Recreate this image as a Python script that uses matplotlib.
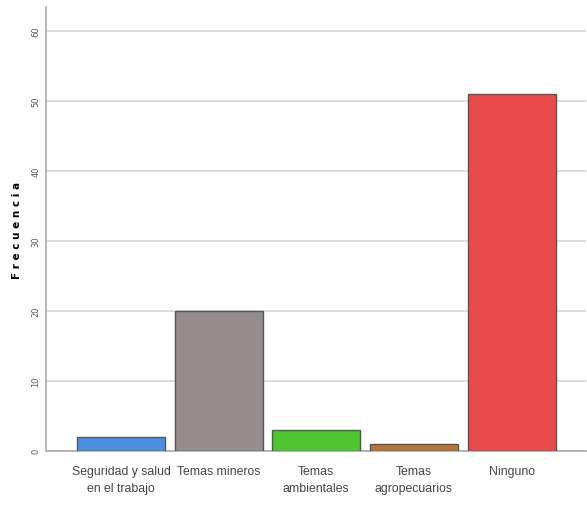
import numpy as np
import matplotlib
matplotlib.use("Agg")
import matplotlib.pyplot as plt

categories = ["Seguridad y salud\nen el trabajo", "Temas mineros", "Temas\nambientales",
              "Temas\nagropecuarios", "Ninguno"]
frecuencia = [2, 20, 3, 1, 51]
colors = ["#4a8fe0", "#938d8d", "#4cc531", "#b5763a", "#e94a4a"]
yticks = [0, 10, 20, 30, 40, 50, 60]

fig = plt.figure(figsize=(5.87, 5.06), dpi=100)
ax = fig.add_axes([0.078, 0.107, 0.92, 0.877])

x = np.arange(len(categories))
ax.bar(x, frecuencia, width=0.9, color=colors, edgecolor="#555555", linewidth=1, zorder=3)

ax.set_xlim(-0.77, 4.76)
ax.set_ylim(0, 63.4)
ax.set_yticks(yticks)
ax.set_yticklabels([str(v) for v in yticks], rotation=90, va="center",
                   fontsize=6, color="#555555")
ax.set_xticks(x)
ax.set_xticklabels(categories, fontsize=8.8, family="Liberation Sans",
                   color="#444444", linespacing=1.55)
ax.tick_params(axis="both", length=0)
ax.tick_params(axis="x", pad=10)
ax.tick_params(axis="y", pad=4)

ax.yaxis.grid(True, color="#d8d8d8", linewidth=1.2, zorder=0)
for side in ["top", "right"]:
    ax.spines[side].set_visible(False)
for side in ["left", "bottom"]:
    ax.spines[side].set_color("#aaaaaa")
    ax.spines[side].set_linewidth(1.2)

ax.set_ylabel("F r e c u e n c i a", fontsize=7.5, fontweight="bold", labelpad=7)

fig.savefig("out.png", dpi=100)
